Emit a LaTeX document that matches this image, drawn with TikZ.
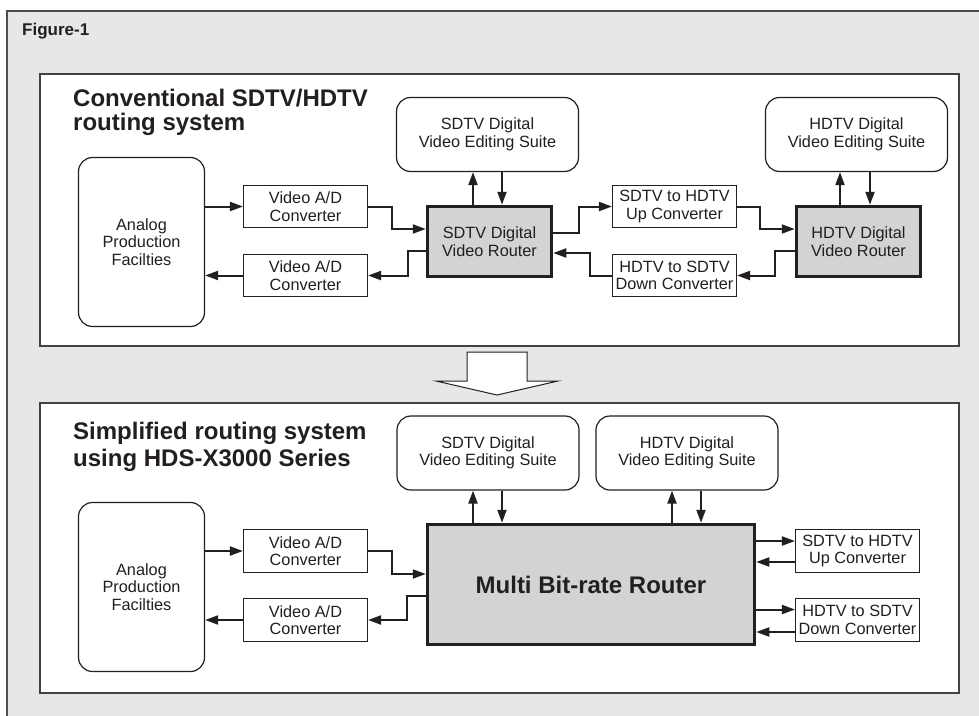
\documentclass[tikz,border=0pt]{standalone}
\usepackage{fontspec}
\setmainfont{Liberation Sans}
\usetikzlibrary{arrows.meta,calc}
\definecolor{bg}{HTML}{E6E7E8}
\definecolor{ink}{HTML}{231F20}
\definecolor{rfill}{HTML}{D1D3D4}
\begin{document}
\begin{tikzpicture}[x=1pt,y=-1pt,
  box/.style={draw=ink, line width=1.1pt, fill=white, minimum width=124pt, minimum height=42pt, inner sep=0pt, align=center, font=\fontsize{16.3}{17.5}\selectfont, text=ink},
  rbox/.style={box, rounded corners=14pt, line width=1.2pt},
  router/.style={box, fill=rfill, line width=3.5pt, minimum width=124pt, minimum height=70pt},
  arr/.style={draw=ink, line width=2pt, -{Triangle[length=13pt,width=9pt]}},
  panel/.style={draw=ink!85, line width=1.2pt, fill=white},
  head/.style={anchor=base west, inner sep=0pt, font=\fontsize{24}{28}\selectfont\bfseries, text=ink}]
\useasboundingbox (0,0) rectangle (979,715);
\clip (0,0) rectangle (979,715);
\fill[white] (0,0) rectangle (979,715);
\draw[fill=bg, draw=ink!80, line width=1.1pt] (7,11) rectangle (990,730);
\node[anchor=base west, inner sep=0pt, font=\fontsize{17}{20}\selectfont\bfseries, text=ink] (fig) at (22,35.5) {Figure-1};

% ---------- top panel ----------
\draw[panel] (40,74) rectangle (959,346);
\node[head] (t1a) at (73,106) {Conventional SDTV/HDTV};
\node[head] (t1b) at (73,130) {routing system};

\node[rbox, minimum width=126pt, minimum height=169pt] (an1) at (141.5,242) {Analog\\Production\\Facilties};
\node[box] (ad1) at (305.5,206.5) {Video A/D\\Converter};
\node[box] (ad2) at (305.5,275.5) {Video A/D\\Converter};
\node[router] (r1) at (489.5,241.5) {SDTV Digital\\Video Router};
\node[rbox, minimum width=182pt, minimum height=74pt] (s1) at (487.5,134.5) {SDTV Digital\\Video Editing Suite};
\node[box] (uc1) at (674.5,206.5) {SDTV to HDTV\\Up Converter};
\node[box] (dc1) at (674.5,275.5) {HDTV to SDTV\\Down Converter};
\node[router] (r2) at (858.5,241.5) {HDTV Digital\\Video Router};
\node[rbox, minimum width=182pt, minimum height=74pt] (h1) at (856.5,134.5) {HDTV Digital\\Video Editing Suite};

\draw[arr] (an1.east |- ad1.west) -- (ad1.west);
\draw[arr] (ad1.east) -- ++(24,0) |- ([yshift=12.5pt]r1.west);
\draw[arr] ([yshift=-9.5pt]r1.west) -- ++(-18,0) |- (ad2.east);
\draw[arr] (ad2.west) -- (an1.east |- ad2.west);
\draw[arr] ([xshift=-14.5pt]s1.south |- r1.north) -- ([xshift=-14.5pt]s1.south);
\draw[arr] ([xshift=14.5pt]s1.south) -- ([xshift=14.5pt]s1.south |- r1.north);
\draw[arr] ([yshift=8.5pt]r1.east) -- ++(26,0) |- (uc1.west);
\draw[arr] (dc1.west) -- ++(-22,0) |- ([yshift=-11.5pt]r1.east);
\draw[arr] (uc1.east) -- ++(23,0) |- ([yshift=12.5pt]r2.west);
\draw[arr] ([yshift=-9.5pt]r2.west) -- ++(-20,0) |- (dc1.east);
\draw[arr] ([xshift=-16.5pt]h1.south |- r2.north) -- ([xshift=-16.5pt]h1.south);
\draw[arr] ([xshift=13.5pt]h1.south) -- ([xshift=13.5pt]h1.south |- r2.north);

% ---------- hollow arrow ----------
\draw[ink, line width=1pt, fill=white, line join=miter]
  (467,352) -- (527,352) -- (527,381) -- (558,381) -- (497,395) -- (436,381) -- (467,381) -- cycle;

% ---------- bottom panel ----------
\draw[panel] (40,403) rectangle (959,693);
\node[head] (t2a) at (73,439) {Simplified routing system};
\node[head] (t2b) at (73,466) {using HDS-X3000 Series};

\node[rbox, minimum width=126pt, minimum height=169pt] (an2) at (141.5,587) {Analog\\Production\\Facilties};
\node[box, minimum height=43pt] (ad3) at (305.5,551) {Video A/D\\Converter};
\node[box, minimum height=43pt] (ad4) at (305.5,620) {Video A/D\\Converter};
\node[router, minimum width=327pt, minimum height=120pt, font=\fontsize{24}{28}\selectfont\bfseries] (mr) at (591,584.5) {Multi Bit-rate Router};
\node[rbox, minimum width=182pt, minimum height=74pt] (s2) at (488,453) {SDTV Digital\\Video Editing Suite};
\node[rbox, minimum width=182pt, minimum height=74pt] (h2) at (687,453) {HDTV Digital\\Video Editing Suite};
\node[box, minimum height=43pt] (uc2) at (857.5,551) {SDTV to HDTV\\Up Converter};
\node[box, minimum height=43pt] (dc2) at (857.5,620) {HDTV to SDTV\\Down Converter};

\draw[arr] (an2.east |- ad3.west) -- (ad3.west);
\draw[arr] (ad3.east) -- ++(24,0) |- ([yshift=10.5pt]mr.west);
\draw[arr] ([yshift=-11.5pt]mr.west) -- ++(-19,0) |- (ad4.east);
\draw[arr] (ad4.west) -- (an2.east |- ad4.west);
\draw[arr] ([xshift=-15pt]s2.south |- mr.north) -- ([xshift=-15pt]s2.south);
\draw[arr] ([xshift=14pt]s2.south) -- ([xshift=14pt]s2.south |- mr.north);
\draw[arr] ([xshift=-15pt]h2.south |- mr.north) -- ([xshift=-15pt]h2.south);
\draw[arr] ([xshift=14pt]h2.south) -- ([xshift=14pt]h2.south |- mr.north);
\draw[arr] ([yshift=10pt]uc2.west -| mr.east) -- ([yshift=10pt]uc2.west);
\draw[arr] ([yshift=-11pt]uc2.west) -- ([yshift=-11pt]uc2.west -| mr.east);
\draw[arr] ([yshift=10.5pt]dc2.west -| mr.east) -- ([yshift=10.5pt]dc2.west);
\draw[arr] ([yshift=-12pt]dc2.west) -- ([yshift=-12pt]dc2.west -| mr.east);
\end{tikzpicture}
\end{document}
